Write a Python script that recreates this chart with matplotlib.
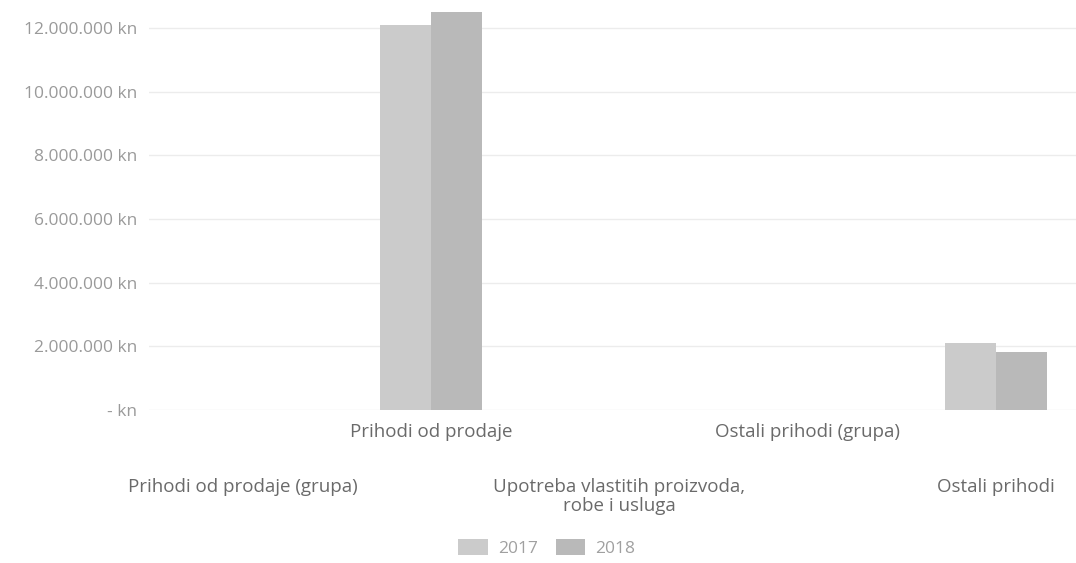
import matplotlib
matplotlib.use("Agg")
import matplotlib.pyplot as plt
import numpy as np
from matplotlib.transforms import blended_transform_factory

categories = [
    "Prihodi od prodaje (grupa)",
    "Prihodi od prodaje",
    "Upotreba vlastitih proizvoda,\nrobe i usluga",
    "Ostali prihodi (grupa)",
    "Ostali prihodi",
]
series_names = ["2017", "2018"]
values_2017 = [0, 12_100_000, 0, 0, 2_100_000]
values_2018 = [0, 12_500_000, 0, 0, 1_820_000]
y_ticks = [0, 2_000_000, 4_000_000, 6_000_000, 8_000_000, 10_000_000, 12_000_000]

plt.rcParams['font.family'] = ['Open Sans', 'DejaVu Sans']

W, H = 1076, 563
fig = plt.figure(figsize=(W / 100, H / 100), dpi=100)
left_px, right_px, top_px, bottom_px = 149, 1076, 0, 410
ax = fig.add_axes([left_px / W, 1 - bottom_px / H,
                   (right_px - left_px) / W, (bottom_px - top_px) / H])

x = np.arange(len(categories))
bw = 0.27
c17 = "#cbcbcb"
c18 = "#b9b9b9"
ax.bar(x - bw / 2, values_2017, bw, color=c17, label=series_names[0], zorder=2)
ax.bar(x + bw / 2, values_2018, bw, color=c18, label=series_names[1], zorder=2)

ax.set_xlim(-0.5, -0.5 + (right_px - left_px) / 188.2)
ax.set_ylim(0, 12_000_000 * 410 / 382)

ax.set_yticks(y_ticks)
ax.set_yticklabels(["- kn" if v == 0 else f"{v:,.0f}".replace(",", ".") + " kn" for v in y_ticks],
                   fontsize=12.5, color="#9a9a9a")
ax.tick_params(axis='y', length=0, pad=8.5)
ax.set_xticks([])
ax.yaxis.grid(True, color="#ececec", linewidth=1, zorder=0)
for s in ax.spines.values():
    s.set_visible(False)

trans = blended_transform_factory(ax.transData, ax.transAxes)
ax_h = bottom_px - top_px
for i, lab in enumerate(categories):
    ypx = 423 if i % 2 == 1 else 478
    ax.text(i, -(ypx - bottom_px) / ax_h, lab, transform=trans, ha='center', va='top',
            fontsize=13.5, color="#6a6a6a", linespacing=1.1)

fig.legend(loc='center', bbox_to_anchor=(547 / W, 1 - 548 / H), ncol=2, frameon=False,
           fontsize=12.5, labelcolor="#a0a0a0", handlelength=1.7, handleheight=1.0,
           columnspacing=1.0, handletextpad=0.6)

fig.savefig("out.png", dpi=100)
